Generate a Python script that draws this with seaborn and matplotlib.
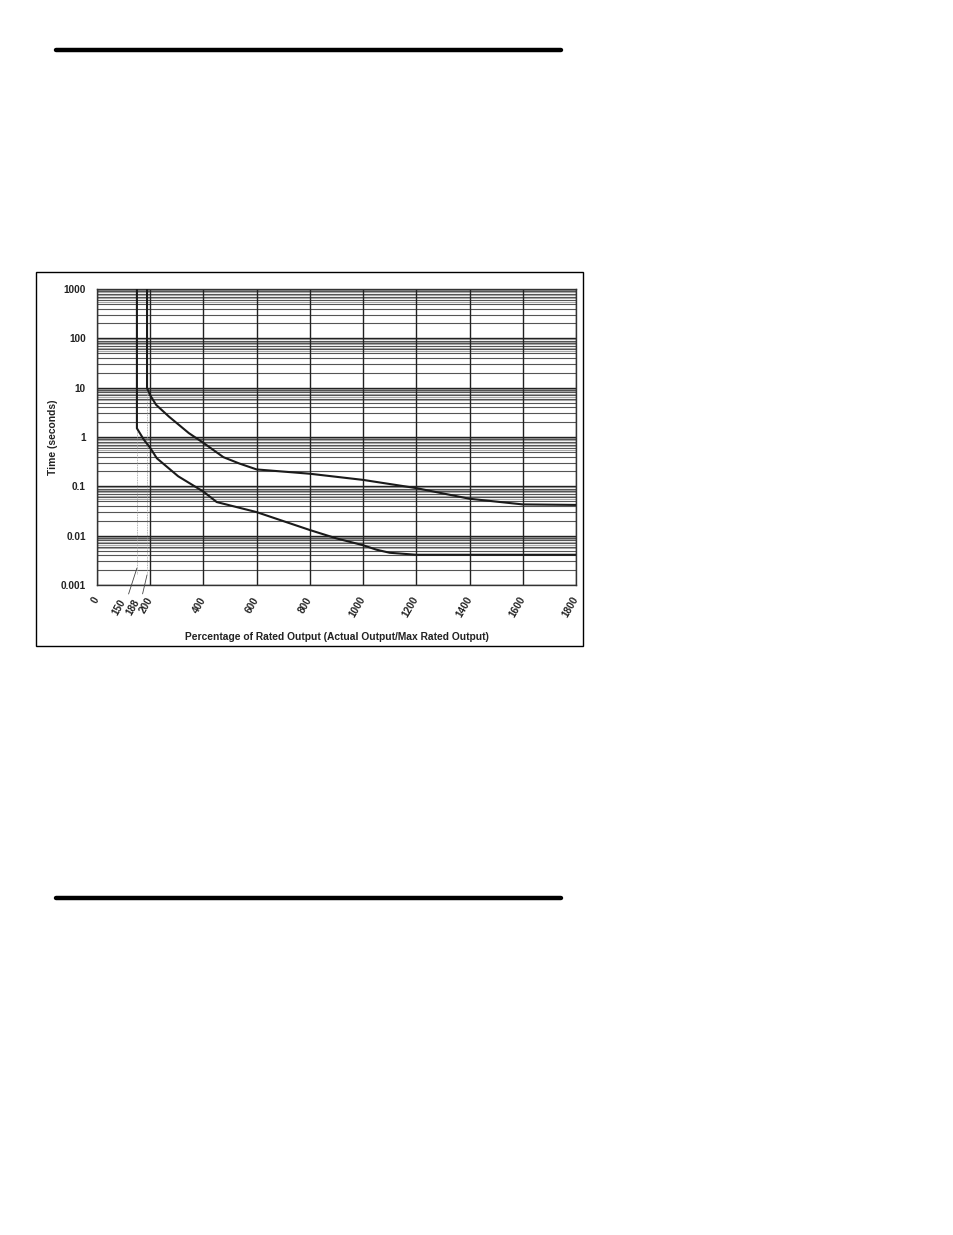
import numpy as np
import pandas as pd
import seaborn as sns
import matplotlib.pyplot as plt
from matplotlib.lines import Line2D
from matplotlib.patches import Rectangle
from matplotlib.ticker import FixedLocator, NullFormatter

# curve data
upper_pct = [188, 188, 200, 222, 270, 345, 400, 475, 535, 600, 800, 1000, 1200, 1400, 1600, 1800]
upper_time = [1000, 9.8, 7.0, 4.5, 2.6, 1.2, 0.76, 0.39, 0.29, 0.22, 0.18, 0.135, 0.092, 0.056, 0.043, 0.042]
lower_pct = [150, 150, 175, 200, 225, 305, 400, 450, 600, 800, 900, 1000, 1050, 1100, 1200, 1800]
lower_time = [1000, 1.5, 0.9, 0.6, 0.37, 0.16, 0.078, 0.048, 0.030, 0.013, 0.0088, 0.0064, 0.0052, 0.0045, 0.0041, 0.0041]

x_ticks = [0, 200, 400, 600, 800, 1000, 1200, 1400, 1600, 1800]
y_ticks = [0.001, 0.01, 0.1, 1, 10, 100, 1000]
y_labels = ['0.001', '0.01', '0.1', '1', '10', '100', '1000']
marked_pct = [150, 188]
marked_labels = ['150', '188']
marked_ends = [1.5, 9.8]

df = pd.concat([
    pd.DataFrame({'pct': upper_pct, 'time': upper_time, 'curve': 'upper'}),
    pd.DataFrame({'pct': lower_pct, 'time': lower_time, 'curve': 'lower'}),
])

sns.set_style('white')
plt.rcParams['font.family'] = ['Liberation Sans', 'DejaVu Sans']
plt.rcParams['font.weight'] = 'bold'

W, H = 954, 1235
fig = plt.figure(figsize=(W / 100, H / 100), dpi=100)
ax = fig.add_axes([97 / W, 1 - 585 / H, (576 - 97) / W, (585 - 289) / H])

# grid first
decades = [0.001, 0.01, 0.1, 1, 10, 100]
for d in decades:
    for k in range(2, 10):
        ax.axhline(d * k, color='#555555', lw=0.8, zorder=1)
    for k in [5.5, 6.5, 7.5, 8.5, 9.5]:
        ax.axhline(d * k, color='#aaaaaa', lw=0.8, zorder=0.9)
for v in y_ticks:
    ax.axhline(v, color='#222222', lw=1.0, zorder=1.1)
for v in x_ticks:
    ax.axvline(v, color='#222222', lw=1.0, zorder=1.1)

sns.lineplot(data=df, x='pct', y='time', units='curve', estimator=None, sort=False,
             color='#1a1a1a', lw=1.5, ax=ax, zorder=3, legend=False)

# dotted drop lines from the vertical parts to the axis
for p, top in zip(marked_pct, marked_ends):
    ax.plot([p, p], [top, 0.0017], color='#999999', lw=0.6, ls=(0, (1, 1)), zorder=2)

ax.set_yscale('log')
ax.set_xlim(0, 1800)
ax.set_ylim(0.001, 1000)
ax.yaxis.set_major_locator(FixedLocator(y_ticks))
ax.set_yticklabels(y_labels, fontsize=7.2, fontweight='bold', color='#222222')
ax.yaxis.set_minor_formatter(NullFormatter())
ax.tick_params(axis='y', which='both', length=0, pad=8)
ax.set_xticks(x_ticks)
ax.set_xticklabels([str(v) for v in x_ticks], rotation=60, ha='right', va='center',
                   rotation_mode='anchor', fontsize=7.2, fontweight='bold', color='#222222')
ax.tick_params(axis='x', length=0, pad=9)

# 150 / 188 labels with leader lines
offsets = [(-13, -21), (-10, -16)]
anchors = [0.0022, 0.0016]
for p, lab, off, yv in zip(marked_pct, marked_labels, offsets, anchors):
    ax.annotate(lab, xy=(p, yv), xytext=off, textcoords='offset points',
                rotation=60, ha='right', va='top', rotation_mode='anchor',
                fontsize=7.2, fontweight='bold', color='#222222', annotation_clip=False,
                arrowprops=dict(arrowstyle='-', lw=0.6, color='#444444',
                                shrinkA=0, shrinkB=0, relpos=(1, 1)))

ax.set_xlabel('Percentage of Rated Output (Actual Output/Max Rated Output)',
              fontsize=7.4, fontweight='bold', color='#222222', labelpad=9)
ax.set_ylabel('Time (seconds)', fontsize=7.4, fontweight='bold', color='#222222', labelpad=2)

for s in ax.spines.values():
    s.set_color('#333333')
    s.set_linewidth(1.0)

# frame and page rules
fig.add_artist(Rectangle((36 / W, 1 - 646 / H), (583 - 36) / W, (646 - 272) / H,
                         transform=fig.transFigure, fill=False, lw=1.0, ec='black'))
for yp in [50, 898]:
    fig.add_artist(Line2D([56 / W, 561 / W], [1 - yp / H, 1 - yp / H],
                          transform=fig.transFigure, color='black', lw=3.2))

fig.savefig('out.png', dpi=100, facecolor='white')
